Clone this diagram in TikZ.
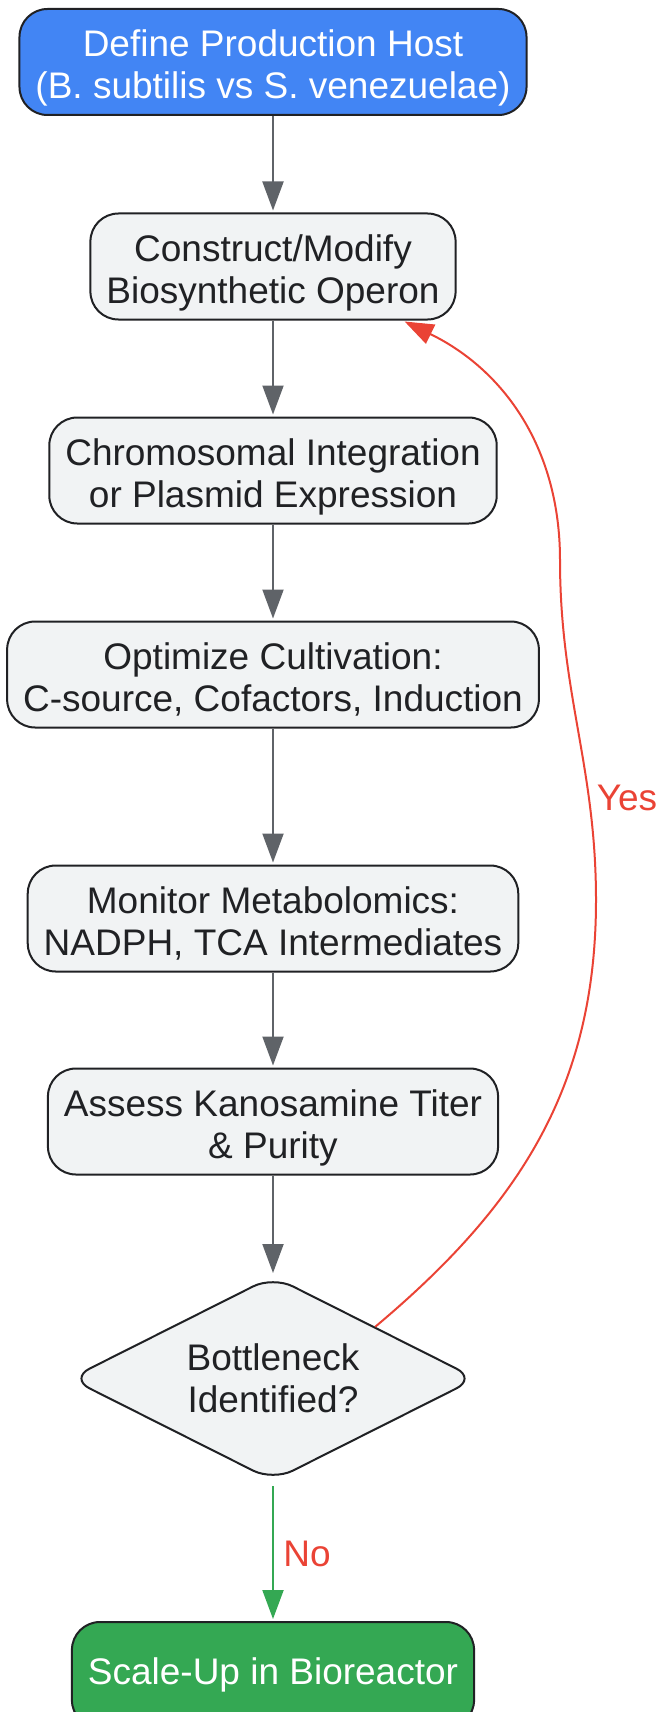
\documentclass[tikz,border=0pt]{standalone}
\usepackage{fontspec}
\setmainfont{Liberation Sans}
\usetikzlibrary{shapes.geometric, arrows.meta, calc}

\definecolor{hostblue}{HTML}{4285F4}
\definecolor{scalegreen}{HTML}{34A853}
\definecolor{boxgray}{HTML}{F1F3F4}
\definecolor{edgedark}{HTML}{202124}
\definecolor{flowgray}{HTML}{5F6368}
\definecolor{loopred}{HTML}{EA4335}

\begin{document}
\begin{tikzpicture}[x=1pt, y=1pt,
  stepbox/.style={rectangle, rounded corners=28pt, draw=edgedark, line width=2pt,
    fill=boxgray, text=edgedark, align=center, minimum height=106pt,
    inner xsep=16pt, font=\fontsize{37}{42}\selectfont,
    text height=76pt, text depth=2pt},
  endbox/.style={stepbox, text=white, text height=, text depth=},
  decision/.style={diamond, aspect=2, rounded corners=22pt, draw=edgedark, line width=2pt,
    fill=boxgray, text=edgedark, align=center, minimum width=407pt,
    minimum height=205pt, inner sep=0pt, font=\fontsize{37}{42}\selectfont,
    text height=73pt, text depth=5pt},
  flow/.style={draw=flowgray, line width=2pt, -{Triangle[length=29pt, width=21pt]}, shorten >=2pt},
  lbl/.style={text=loopred, font=\fontsize{37}{42}\selectfont}]
  \useasboundingbox (0,0) rectangle (662,-1712);

  % Start - host choice (blue)
  \node[endbox, fill=hostblue, text height=76pt, text depth=2pt] (host) at (273,-62) {Define Production Host\\(B. subtilis vs S. venezuelae)};

  % Engineering steps
  \node[stepbox] (operon) at (273,-266.5) {Construct/Modify\\Biosynthetic Operon};
  \node[stepbox] (integ) at (273,-470.5) {Chromosomal Integration\\or Plasmid Expression};
  \node[stepbox] (cultiv) at (273,-674.5) {Optimize Cultivation:\\C-source, Cofactors, Induction};
  \node[stepbox] (monitor) at (273,-918.5) {Monitor Metabolomics:\\NADPH, TCA Intermediates};
  \node[stepbox] (assess) at (273,-1121.5) {Assess Kanosamine Titer\\\& Purity};

  % Decision and end (green)
  \node[decision] (decide) at (273,-1378.5) {Bottleneck\\Identified?};
  \node[endbox, fill=scalegreen] (scale) at (273,-1675) {Scale-Up in Bioreactor};

  % Straight flow
  \draw[flow] (host) -- (operon);
  \draw[flow] (operon) -- (integ);
  \draw[flow] (integ) -- (cultiv);
  \draw[flow] (cultiv) -- (monitor);
  \draw[flow] (monitor) -- (assess);
  \draw[flow] (assess) -- (decide);
  \draw[flow, draw=scalegreen, shorten <=4pt] (decide) -- (scale);

  % Loop back when a bottleneck is found
  \coordinate (loopR) at (596,-900);
  \coordinate (loopT) at (560,-560);
  \draw[flow, draw=loopred, shorten >=0pt] (decide.north east) to[out=40, in=-90] (loopR)
    to[out=90, in=-90] (loopT) to[out=90, in=-26] ($(operon.south east)+(-52,-1)$);

  % Branch labels
  \node[lbl] (yes) at (627,-798) {Yes};
  \node[lbl] (no) at (307,-1554) {No};
\end{tikzpicture}
\end{document}
